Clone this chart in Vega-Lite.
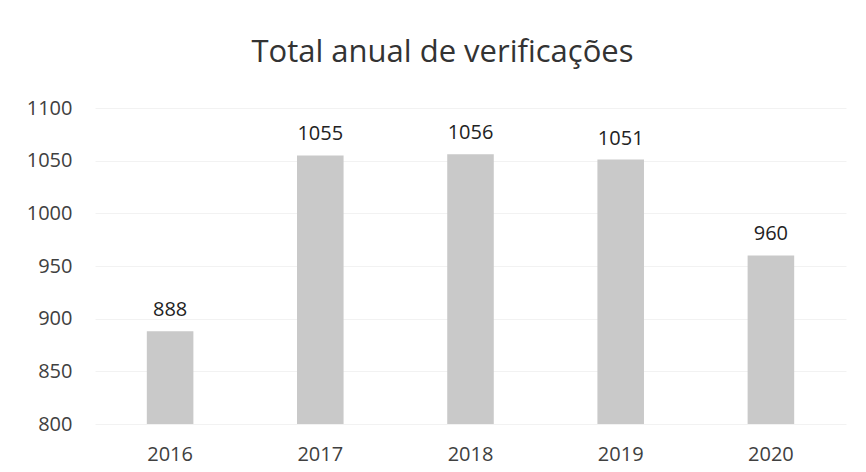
{
  "$schema": "https://vega.github.io/schema/vega-lite/v6.json",
  "autosize": "none",
  "width": 751,
  "height": 316,
  "padding": {"left": 95, "top": 108, "right": 20, "bottom": 48},
  "background": "white",
  "config": {"view": {"stroke": null}, "font": "Open Sans"},
  "title": {
    "text": "Total anual de verificações",
    "fontSize": 31,
    "fontWeight": "normal",
    "color": "#333333",
    "font": "Open Sans",
    "offset": 29,
    "dx": -28
  },
  "data": {
    "values": [
      {"ano": "2016", "total": 888},
      {"ano": "2017", "total": 1055},
      {"ano": "2018", "total": 1056},
      {"ano": "2019", "total": 1051},
      {"ano": "2020", "total": 960}
    ]
  },
  "encoding": {
    "x": {
      "field": "ano",
      "type": "ordinal",
      "scale": {"paddingInner": 0.69, "paddingOuter": 0.345},
      "axis": {
        "title": null,
        "labelAngle": 0,
        "domain": false,
        "ticks": false,
        "labelPadding": 20,
        "labelFontSize": 20,
        "labelColor": "#404040",
        "labelFont": "Open Sans"
      }
    },
    "y": {
      "field": "total",
      "type": "quantitative",
      "scale": {"domain": [800, 1100], "nice": false, "zero": false},
      "axis": {
        "title": null,
        "values": [800, 850, 900, 950, 1000, 1050, 1100],
        "format": "d",
        "domain": false,
        "ticks": false,
        "labelPadding": 23,
        "labelFontSize": 20,
        "labelColor": "#404040",
        "labelFont": "Open Sans",
        "gridColor": "#f2f2f2",
        "gridWidth": 1
      }
    }
  },
  "layer": [
    {"mark": {"type": "bar", "color": "#c9c9c9", "clip": true}},
    {
      "mark": {"type": "text", "baseline": "bottom", "dy": -11, "fontSize": 20, "color": "#222222", "font": "Open Sans"},
      "encoding": {"text": {"field": "total", "type": "quantitative", "format": "d"}}
    }
  ]
}
